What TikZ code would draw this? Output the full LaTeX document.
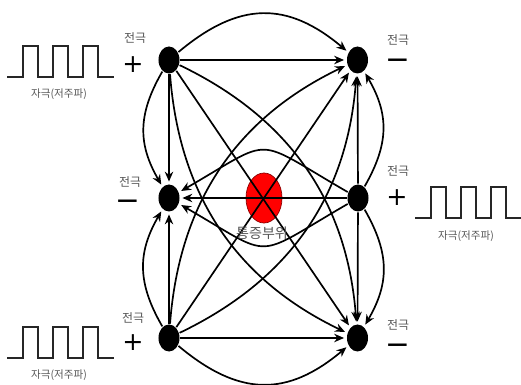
\documentclass[tikz,border=0pt]{standalone}
\usepackage{fontspec}
\setmainfont{Noto Sans CJK KR}
\newfontfamily\symfont{DejaVu Sans}
\usetikzlibrary{arrows.meta,shapes.geometric}
\definecolor{txtgray}{RGB}{85,85,85}
\definecolor{spotred}{RGB}{255,0,0}
\tikzset{
  pole/.style={ellipse,fill=black,inner sep=0pt,minimum width=0.525cm,minimum height=0.675cm},
  spot/.style={ellipse,fill=spotred,draw=red!55!black,line width=0.5pt,inner sep=0pt,minimum width=0.9cm,minimum height=1.25cm},
  lab/.style={inner sep=0pt,text=txtgray,font=\fontsize{8.5}{9}\selectfont},
  plussign/.style={inner sep=0pt,font=\symfont\fontsize{18}{18}\selectfont},
  minussign/.style={inner sep=0pt,font=\symfont\fontsize{21}{21}\selectfont},
  wavelab/.style={inner sep=0pt,text=txtgray,font=\fontsize{7.5}{8}\selectfont},
  wave/.style={line width=1.1pt,black!85,line join=miter}
}
\newcommand\sqwave[2]{% x, baseline y
  \draw[wave] (#1,#2) -- ++(16,0) -- ++(0,31) -- ++(15,0) -- ++(0,-31) -- ++(15,0)
    -- ++(0,31) -- ++(15,0) -- ++(0,-31) -- ++(15,0) -- ++(0,31) -- ++(15,0)
    -- ++(0,-31) -- ++(16,0);}
\begin{document}
\begin{tikzpicture}[x=0.025cm,y=0.025cm,>={Stealth[length=7pt,width=6pt]},line width=1.2pt]
\useasboundingbox (0,0) rectangle (521,-385);
% pain spot in the middle
\node[spot] (pain) at (264,-198) {};
% electrodes
\node[pole] (p1) at (169,-60) {};
\node[pole] (n1) at (357.5,-60) {};
\node[pole] (n2) at (169,-198) {};
\node[pole] (p2) at (358,-198) {};
\node[pole] (p3) at (169,-338) {};
\node[pole] (n3) at (357.5,-338) {};
% straight connectors
\draw[->,shorten >=1.5pt] (p1) -- (n1);
\draw[->,shorten >=1.5pt] (p1) -- (n2);
\draw[->,shorten >=1.5pt] (p1) -- (n3);
\draw[->,shorten >=1.5pt] (p2) -- (n1);
\draw[->,shorten >=1.5pt] (p2) -- (n2);
\draw[->,shorten >=1.5pt] (p2) -- (n3);
\draw[->,shorten >=1.5pt] (p3) -- (n1);
\draw[->,shorten >=1.5pt] (p3) -- (n2);
\draw[->,shorten >=1.5pt] (p3) -- (n3);
% outer arcs
\draw[->,shorten >=1.5pt] (p1) to[out=40,in=140,looseness=1.2] (n1);
\draw[->,shorten >=1.5pt] (p3) to[out=-40,in=-140,looseness=1.2] (n3);
\draw[->,shorten >=1.5pt] (p1) to[bend right=30,looseness=1.1] (n2);
\draw[->,shorten >=1.5pt] (p3) to[bend left=30,looseness=1.1] (n2);
\draw[->,shorten >=1.5pt] (p2) to[bend right=30,looseness=1.1] (n1);
\draw[->,shorten >=1.5pt] (p2) to[bend left=30,looseness=1.1] (n3);
% lenses through the pain spot
\draw[->,shorten >=1.5pt] (p2) to[out=150,in=30,looseness=1.7] (n2);
\draw[->,shorten >=1.5pt] (p2) to[out=210,in=-30,looseness=1.7] (n2);
\draw[->,shorten >=1.5pt] (p1) to[bend left=30] (n3);
\draw[->,shorten >=1.5pt] (p1) to[bend right=30] (n3);
\draw[->,shorten >=1.5pt] (p3) to[bend left=30] (n1);
\draw[->,shorten >=1.5pt] (p3) to[bend right=30] (n1);
\node[lab,font=\fontsize{10}{11}\selectfont] (painlab) at (262,-233) {통증부위};
% electrode labels
\node[lab] (p1lab) at (135,-38) {전극};
\node[plussign] (p1sign) at (133,-65) {+};
\node[lab] (n1lab) at (398,-40) {전극};
\node[minussign] (n1sign) at (398,-64) {−};
\node[lab] (n2lab) at (130,-182) {전극};
\node[minussign] (n2sign) at (128,-205) {−};
\node[lab] (p2lab) at (398,-171) {전극};
\node[plussign] (p2sign) at (397,-198) {+};
\node[lab] (p3lab) at (133,-318) {전극};
\node[plussign] (p3sign) at (133,-343) {+};
\node[lab] (n3lab) at (398,-325) {전극};
\node[minussign] (n3sign) at (398,-349) {−};
% stimulation waves
\sqwave{7}{-77}
\node[wavelab] (w1lab) at (59,-94) {자극(저주파)};
\sqwave{7}{-358}
\node[wavelab] (w3lab) at (59,-375) {자극(저주파)};
\sqwave{415}{-218}
\node[wavelab] (w2lab) at (466,-236) {자극(저주파)};
\end{tikzpicture}
\end{document}
